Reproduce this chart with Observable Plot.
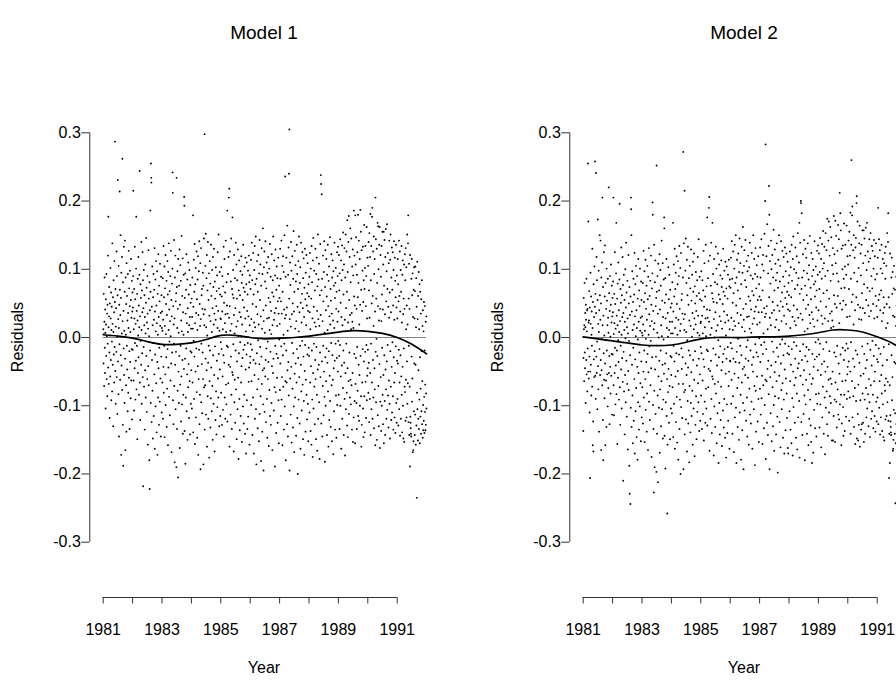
<!DOCTYPE html>
<html><head><meta charset="utf-8">
<script src="https://cdn.jsdelivr.net/npm/d3@7"></script>
<script src="https://cdn.jsdelivr.net/npm/@observablehq/plot@0.6"></script>
<style>
body{margin:0;width:896px;height:681px;overflow:hidden;position:relative;background:#fff;font-family:"Liberation Sans",Arial,sans-serif;color:#000}
.panel{position:absolute;top:0;width:480px;height:681px}
.title{position:absolute;font-size:19px;transform:translate(-50%,-50%);white-space:nowrap}
.xl{position:absolute;font-size:16px;transform:translate(-50%,-50%)}
.yl{position:absolute;font-size:16px;transform:translate(-50%,-50%) rotate(-90deg);white-space:nowrap}
</style></head><body>
<div id="p1" class="panel" style="left:0"></div>
<div id="p2" class="panel" style="left:480px"></div>
<div class="title" style="left:264px;top:33px">Model 1</div>
<div class="title" style="left:744px;top:33px">Model 2</div>
<div class="xl" style="left:264px;top:668px">Year</div>
<div class="xl" style="left:744px;top:668px">Year</div>
<div class="yl" style="left:18px;top:337px">Residuals</div>
<div class="yl" style="left:498px;top:337px">Residuals</div>
<script>
// tick values
const yearTicks = [1981,1982,1983,1984,1985,1986,1987,1988,1989,1990,1991];
const residTicks = [-0.3,-0.2,-0.1,0,0.1,0.2,0.3];

// Model 1 residuals (thousandths), one array per year, in time order
const m1y1981 = [12,-38,64,5,-71,23,88,-15,-52,41,7,-104,56,19,-27,93,-61,2,35,-86,48,-9,120,-44,177,15,-68,31,74,-22,-118,50,3,-57,102,28,-33,66,-92,11,45,-6,-79,138,20,-40,59,-130,8,84,-25,37,-66,112,-14,52,287,-49,71,-97,16,43,-21,126,-58,90,1,-112,62,231,-35,27,-83,105,14,-145,48,-10,214,70,-62,33,150,-26,58,-172,95,-41,6,118,-77,262,24,-128,81,-188,39,-16,133,-55,10,-96,67,142,-31,-165,88,4,-70,49,-138,109,-12,61,-47,25,-108,93,36,-81,14,127,-59,72,-20,-134,46,98,-36,8,-89,55,115,-63,29,-17,83,-120,38,66];
const m1y1982 = [-18,44,90,215,-63,12,-107,71,28,-45,133,-8,56,-91,20,-34,101,177,-76,39,-12,64,-149,25,86,-52,3,118,-29,47,-84,15,92,244,-66,31,-121,78,-5,58,-40,140,11,-97,69,-23,37,125,-58,84,-218,43,-14,99,-72,18,62,-135,30,-48,107,6,-88,51,146,-27,73,-109,22,-61,90,35,-157,13,-42,128,-70,57,2,-180,81,-222,40,-19,186,67,-96,255,234,227,-124,45,-33,104,-78,18,-148,59,-8,93,-115,26,70,-54,131,-163,38,-25,85,-101,9,112,-67,47,-139,21,97,-36,-172,64,4,-88,122,-45,30,-128,76,-15,53,-94,108,17,-60,36,-145,89,-28,62,-110,14];
const m1y1983 = [38,-66,10,87,-119,26,-43,134,-81,59,-12,104,-146,17,72,-54,121,-99,5,49,-29,83,-131,33,-75,112,-17,63,-158,96,-44,11,138,-87,41,-6,68,-114,24,90,-63,2,127,-38,55,-168,31,79,-22,101,242,212,-92,46,-127,19,-9,143,-71,28,-183,88,-40,120,-105,53,-21,65,-190,234,74,-134,14,97,-78,42,-205,115,-50,7,-96,76,-27,129,-162,48,-69,106,-12,83,-123,25,-57,149,9,-98,61,-33,116,-141,37,-84,4,92,-46,206,193,-137,58,-31,94,-185,35,-88,70,-16,122,-108,21,-54,85,-150,43,8,-73,110,-39,63,-118,18,99,-64,30,-142,77,-20,51,-97,13,-48];
const m1y1984 = [-22,57,-104,30,88,-66,13,179,-139,45,-5,114,-90,67,-28,137,-156,21,78,-50,102,-117,36,-16,126,-80,56,-147,11,85,-42,119,-172,33,-61,97,-18,141,-127,49,-84,17,109,-193,27,131,-95,-9,62,-39,71,-111,42,-22,95,-61,76,-186,34,145,-73,18,298,-135,41,-70,105,-31,152,-113,15,87,-48,121,-160,3,69,-86,140,-37,-119,55,-12,94,-176,32,-64,112,-19,79,-132,24,-89,136,-44,61,-108,8,99,-71,43,-150,118,-26,74,-97,19,130,-55,35,-167,82,-13,57,-121,26,103,-79,46,-142,68,-34,91,-102,14,125,-60,39,-88,151,-24,72,-130,10,96,-47,63,-115,28,-7];
const m1y1985 = [27,-81,103,-17,60,-128,38,90,-57,12,-106,75,-26,133,-145,51,-37,115,-88,21,66,-119,34,142,-69,8,-98,81,-12,47,186,-123,35,-14,93,-67,118,-40,205,29,218,-160,46,126,-43,10,-113,82,-28,145,-84,20,-134,71,-51,176,63,-55,99,-10,58,-167,33,121,-95,6,-62,87,-125,43,-19,139,-76,16,107,-149,57,-35,84,-105,24,129,-59,2,-178,69,-23,113,-90,37,-136,62,-7,97,-115,30,-66,119,-42,80,-153,19,92,-30,55,-101,136,-18,73,-126,44,-84,104,-11,67,-141,28,117,-47,9,-170,78,-25,110,-92,39,-134,63,-8,98,-116,31,-65,120,-44,81,-157,18,91,-28];
const m1y1986 = [-37,71,-10,114,-99,27,-64,139,-18,84,-143,49,9,-88,124,-33,63,-170,22,99,-55,134,-119,15,78,-38,148,-105,45,-186,86,-23,112,-76,34,-133,67,-4,121,-61,19,-152,94,-39,143,-112,55,-14,107,-86,31,-181,76,-28,131,-68,13,-138,93,-48,160,-98,40,-195,24,103,-45,126,-109,7,82,-57,141,-33,47,-124,72,-16,110,-90,28,-147,95,-6,-61,118,-36,58,-159,29,101,-77,11,137,-115,52,-21,89,-128,39,5,-96,122,-42,66,-165,18,84,-52,148,-31,60,-107,26,113,-73,36,-189,91,-12,129,-80,43,-140,70,-24,104,-59,17,87,-125,53,-30,117,-92,35,-155,76,-3,58];
const m1y1987 = [20,-77,130,-38,86,-115,53,-13,142,-91,35,-58,105,-158,67,-26,119,-72,4,96,-135,41,-9,150,-101,28,236,-64,89,-180,33,-19,117,-66,44,-127,164,-48,10,-145,92,-36,132,-85,240,57,305,-195,27,110,-60,77,-113,16,140,-43,98,-154,34,-8,119,-75,50,-132,86,-23,156,-101,38,-168,67,-53,127,-88,13,106,-38,82,-144,24,-66,136,-17,93,-118,45,-200,71,-30,112,-91,9,148,-58,37,-126,80,-12,103,-163,51,-40,139,-79,22,-107,64,-5,125,-69,43,-149,87,-28,116,-93,30,-172,73,-49,130,-11,56,-138,95,-62,18,121,-84,47,-120,65,-25,109,-97,39,-152,78,-15,60];
const m1y1988 = [-27,89,-110,37,124,-66,12,-137,101,-42,57,-157,134,-19,81,-91,28,-175,113,-52,146,-104,45,-9,98,-72,22,-127,69,-33,130,-61,16,-149,93,-14,117,-84,39,-166,75,-47,151,-119,27,85,-40,108,-95,17,-178,62,-22,137,-58,33,238,225,-126,69,210,-35,86,-145,24,-71,120,-12,53,-114,96,-50,141,-87,7,-182,74,-29,128,-100,40,-64,115,-16,60,-143,92,-37,11,136,-79,46,-160,83,-20,104,-121,31,-56,147,-93,19,71,-131,54,-8,122,-70,35,-152,88,-26,113,-62,25,-171,97,-45,76,-108,14,139,-34,58,-135,80,-9,102,-85,42,-147,67,-30,125,-99,23,90,-50,133,-5];
const m1y1989 = [38,-84,121,-27,69,-134,94,-11,144,-100,51,-57,113,-163,30,84,-41,135,-119,18,99,-74,154,-19,63,-143,107,-37,131,-90,26,-173,88,-52,151,-105,43,-9,126,-81,67,-129,172,-45,96,-146,22,140,-64,178,-112,55,-22,118,-88,33,160,-62,81,-98,12,145,-70,36,-135,104,23,-52,129,-153,91,14,-117,186,60,-24,120,-93,47,-155,179,-68,107,-30,147,-96,42,-134,92,-14,125,-78,59,180,-115,80,-40,142,-122,19,-55,115,-100,48,187,-27,155,-86,70,-160,128,-128,39,-66,98,-17,133,-104,52,-146,84,-35,165,-86,71,-139,102,-21,134,-65,46,-118,90,-11,162,-92,28,-56,117,-45];
const m1y1990 = [-18,105,-81,140,-37,69,-124,153,29,-90,118,-52,181,-143,84,-9,134,-105,50,-66,177,190,-119,61,-33,126,-88,17,148,-133,93,-45,115,-76,38,-158,205,-21,144,-95,57,-2,130,-150,80,-27,168,-114,46,163,-71,100,-130,25,136,-39,162,-162,42,-94,121,-58,89,-137,24,134,-100,63,-15,155,-84,41,-127,107,-55,155,-155,76,-26,143,-93,34,-143,118,-47,159,-76,53,-119,97,-35,166,-106,71,-11,124,-85,45,-132,109,-63,29,142,-97,66,-148,114,-20,151,-72,37,-121,88,-43,132,-110,70,-7,125,-86,47,-135,99,-29,141,-66,26,-117,117,-52,83,-140,59,-13,136,-96,44,-125,91,-34];
const m1y1991 = [28,-90,115,-38,78,-129,53,-18,142,-105,61,-66,126,-144,38,-26,99,-119,67,-57,134,-84,22,-139,92,-43,113,-100,34,-148,57,-16,107,-153,42,-72,122,-80,84,-122,131,-62,12,103,-117,47,-35,151,-97,19,-67,138,179,-124,57,-12,108,-143,42,-72,-189,121,-116,-125,-133,-141,-145,86,-28,115,-94,62,-60,94,-168,30,-165,-152,70,-108,103,-38,28,-143,68,-113,104,-40,-157,15,87,-129,45,-235,-81,111,-105,27,-151,61,-119,-48,96,-134,12,-91,78,-155,-29,67,-116,-75,35,-141,56,-108,-20,84,-127,-64,17,-147,40,-99,-136,9,-122,52,-87,-140,-19,46,-109,-69,-136,23,-128,-82,31,-104];

// Model 2 residuals (thousandths)
const m2y1981 = [-137,-30,58,12,-64,18,80,-22,-45,36,15,-96,48,26,-33,86,-54,9,40,-79,42,-16,255,-50,170,22,-60,25,68,-28,-110,44,-206,-50,95,20,-40,60,-85,4,38,-12,-72,130,14,-158,52,-123,-167,78,-32,30,-58,104,-20,45,258,-56,64,-90,241,36,-28,118,-52,84,-6,-105,55,173,-42,20,-76,98,8,-138,40,-17,150,62,-55,26,142,-33,50,-165,88,-48,-2,110,-70,205,18,-121,74,-180,32,-23,125,-62,3,-89,60,135,-38,-158,80,-4,-63,42,-131,101,-19,54,-54,18,-101,86,29,-74,7,220,-52,65,-27,-127,39,90,-43,1,-82,48,107,-56,22,-24,76,-113,31,58];
const m2y1982 = [-25,37,82,205,-70,5,-114,64,21,-52,125,-15,49,-98,13,-41,94,168,-83,32,-19,57,-156,18,79,-59,-4,110,-36,40,-91,8,85,196,-73,24,-128,71,-12,51,-47,132,4,-104,62,-30,30,118,-65,77,-210,36,-21,92,-79,11,55,-142,23,-55,100,-1,-95,44,139,-34,66,-116,15,-68,83,28,-164,6,-49,121,-77,50,-5,-188,74,-229,33,-26,-244,60,-103,205,188,150,-131,38,-40,97,-85,11,-155,52,-15,86,-122,19,63,-61,124,-170,31,-32,78,-108,2,105,-74,40,-146,14,90,-43,-179,57,-3,-95,115,-52,23,-135,69,-22,46,-101,101,10,-67,29,-152,82,-35,55,-117,7];
const m2y1983 = [31,-73,3,80,-126,19,-50,127,-88,52,-19,97,-153,10,65,-61,114,-106,-2,42,-36,76,-138,26,-82,105,-24,56,-165,89,-51,4,131,-94,34,-13,61,-121,17,83,-70,-5,120,-45,48,-175,24,72,-29,94,198,180,-99,39,-134,12,-227,136,-78,21,-190,81,-47,113,-112,46,-28,58,-197,252,67,-141,7,90,-85,35,-212,108,-57,0,-103,69,-34,122,-169,41,-76,99,-19,76,-130,18,-64,142,2,-105,54,-40,109,-148,30,-91,-3,85,-53,176,160,-144,51,-38,87,-192,28,-95,63,-23,115,-115,14,-61,-258,-157,36,1,-80,103,-46,56,-125,11,92,-71,23,-149,70,-27,44,-104,6,-55];
const m2y1984 = [-29,50,-111,23,81,-73,6,168,-146,38,-12,107,-97,60,-35,130,-163,14,71,-57,95,-124,29,-23,119,-87,49,-154,4,78,-49,112,-179,26,-68,90,-25,134,-134,42,-91,10,102,-200,20,124,-102,-16,55,-46,64,-118,35,-29,88,-68,272,-193,27,138,-80,11,215,-142,34,-77,98,-38,145,-120,8,80,-55,114,-167,-4,62,-93,133,-44,-126,48,-19,87,-183,25,-71,105,-26,72,-139,17,-96,129,-51,54,-115,1,92,-78,36,-157,111,-33,67,-104,12,123,-62,28,-174,75,-20,50,-128,19,96,-86,39,-149,61,-41,84,-109,7,118,-67,32,-95,144,-31,65,-137,3,89,-54,56,-122,21,-14];
const m2y1985 = [23,-85,97,-23,54,-134,32,84,-63,6,-112,69,-32,127,-151,45,-43,109,-94,15,60,-125,28,136,-75,2,-104,75,-18,41,176,-129,29,-20,87,-73,112,-46,190,23,206,-166,40,120,-49,4,-119,76,-34,139,-90,14,-140,65,-57,168,57,-61,93,-16,52,-173,27,115,-101,0,-68,81,-131,37,-25,133,-82,10,101,-155,51,-41,78,-111,18,123,-65,-4,-184,63,-29,107,-96,31,-142,56,-13,91,-121,24,-72,113,-48,74,-159,13,86,-36,49,-107,130,-24,67,-132,38,-90,98,-17,61,-147,22,111,-53,3,-176,72,-31,104,-98,33,-140,57,-14,92,-122,25,-71,114,-50,75,-163,12,85,-34];
const m2y1986 = [-35,73,-8,117,-97,29,-62,141,-16,86,-141,51,11,-86,126,-31,65,-168,24,101,-53,136,-117,17,80,-36,150,-103,47,-184,88,-21,114,-74,36,-131,69,-2,123,-59,21,-150,96,-37,145,-110,57,-12,109,-84,33,-179,78,-26,133,-66,15,-136,95,-46,162,-96,42,-193,26,105,-43,128,-107,9,84,-55,143,-31,49,-122,74,-14,112,-88,30,-145,97,-4,-59,120,-34,60,-157,31,103,-75,13,139,-113,54,-19,91,-126,41,7,-94,124,-40,68,-163,20,86,-50,150,-29,62,-105,28,115,-71,38,-187,93,-10,131,-78,45,-138,72,-22,106,-57,19,89,-123,55,-28,119,-90,37,-153,78,-1,60];
const m2y1987 = [22,-75,132,-36,88,-113,55,-11,144,-89,37,-56,107,-156,69,-24,121,-70,6,98,-133,43,-7,152,-99,30,200,-62,283,-178,35,-17,119,-64,46,-125,166,-46,12,-143,94,-34,134,-83,222,59,180,-193,29,112,-58,79,-111,18,142,-41,100,-152,36,-6,121,-73,52,-130,88,-21,158,-99,40,-166,69,-51,129,-86,15,108,-36,84,-142,26,-64,138,-15,95,-116,47,-198,73,-28,114,-89,11,150,-56,39,-124,82,-10,105,-161,53,-38,141,-77,24,-105,66,-3,127,-67,45,-147,89,-26,118,-91,32,-170,75,-47,132,-9,58,-136,97,-60,20,123,-82,49,-118,67,-23,111,-162,41,-170,80,-13,62];
const m2y1988 = [-25,91,-108,39,126,-64,14,-135,103,-40,59,-155,136,-17,83,-89,30,-173,115,-50,148,-102,47,-7,100,-70,24,-125,71,-31,132,-59,18,-147,95,-12,119,-82,41,-164,77,-45,153,-117,29,87,-38,110,-93,168,-176,64,-20,139,-56,35,200,197,-124,71,182,-33,88,-143,26,-69,122,-10,55,-112,98,-48,143,-85,9,-180,76,-27,130,-98,42,-62,117,-14,62,-141,94,-35,13,138,-77,48,-158,85,-18,106,-119,33,-54,149,-91,21,73,-129,56,-153,124,-68,37,-184,90,-24,115,-60,27,-169,99,-43,78,-106,16,141,-32,60,-133,82,-7,104,-83,44,-145,69,-28,127,-97,25,92,-48,135,-3];
const m2y1989 = [40,-82,123,-25,71,-132,96,-9,146,-98,53,-55,115,-161,32,86,-39,137,-117,20,101,-72,156,-17,65,-141,109,-35,133,-88,28,-171,90,-50,153,-103,45,-7,128,-79,69,-127,174,-43,98,-144,24,142,-62,170,-110,57,-20,120,-86,35,162,-60,83,-96,14,147,-68,38,-151,106,25,-50,131,-151,93,16,-115,178,62,-22,122,-91,49,-153,171,-66,109,-28,149,-94,44,-132,94,-12,127,-76,61,165,-113,82,-38,144,-120,21,-53,212,-98,50,182,-25,157,-84,72,-158,130,-126,41,-64,100,-15,135,-102,54,-144,86,-33,167,-84,73,-137,104,-19,136,-63,48,-116,92,-9,164,-90,30,-54,119,-43];
const m2y1990 = [-16,107,-79,142,-35,71,-122,155,31,-88,120,-50,183,-141,86,-7,136,260,52,-64,179,192,-117,63,-31,128,-86,19,150,-131,95,-43,117,-74,40,-156,132,-19,146,-93,59,197,207,-148,82,-25,170,-112,48,-151,-69,102,-128,27,138,-37,164,-160,44,-92,123,-56,91,-135,26,136,-127,65,-13,157,-82,43,-125,109,-53,157,-153,78,-24,145,-91,36,-141,120,-45,161,-74,55,-117,99,-33,168,-104,73,-9,126,-83,47,-130,111,-61,31,144,-95,68,-146,116,-18,153,-70,39,-119,90,-41,134,-108,72,-5,127,-84,49,-133,101,-27,143,-64,28,-115,119,-50,85,-138,61,-11,138,-94,46,-123,93,-32];
const m2y1991 = [30,-88,117,-36,190,-127,55,-16,144,-103,63,-64,128,-142,40,-24,101,-117,69,-55,136,-82,24,-137,94,-41,115,-98,36,-146,59,-14,109,-151,44,-70,124,-78,86,-120,133,-60,14,105,-115,49,-33,153,-95,21,-65,140,182,-122,59,-10,-206,-141,44,-70,-184,123,-114,-123,-131,-139,-143,88,-26,117,-92,64,-58,96,-166,32,-163,-150,72,-106,105,-36,30,-141,70,-111,-243,-38,-155,17,89,-127,47,-230,-79,113,-103,29,-149,63,-117,-46,98,-132,14,-89,80,-153,-27,69,-114,-73,37,-139,58,-106,-18,86,-125,-62,19,-145,42,-97,-134,11,-120,54,-85,-138,-17,48,-107,-67,-134,25,-126,-80,33,-102];

// smooth curves
const smoothYears = [1981,1981.5,1982,1982.5,1983,1983.5,1984,1984.5,1985,1985.5,1986,1986.5,1987,1987.5,1988,1988.5,1989,1989.5,1990,1990.5,1991,1991.5,1992];
const smooth1 = [0.004,0.002,-0.001,-0.006,-0.010,-0.010,-0.008,-0.003,0.003,0.003,0.000,-0.002,-0.001,0.000,0.002,0.005,0.008,0.010,0.009,0.006,0.000,-0.010,-0.024];
const smooth2 = [0.001,-0.002,-0.005,-0.008,-0.011,-0.012,-0.011,-0.007,-0.002,0.000,0.000,0.000,0.001,0.001,0.002,0.004,0.007,0.011,0.011,0.008,0.001,-0.008,-0.022];

const model1 = [m1y1981,m1y1982,m1y1983,m1y1984,m1y1985,m1y1986,m1y1987,m1y1988,m1y1989,m1y1990,m1y1991];
const model2 = [m2y1981,m2y1982,m2y1983,m2y1984,m2y1985,m2y1986,m2y1987,m2y1988,m2y1989,m2y1990,m2y1991];

function toPoints(arrs) {
  const pts = [];
  arrs.forEach((arr, k) => {
    const yr = yearTicks[k];
    arr.forEach((v, i) => pts.push({x: yr + (i + 0.5) / arr.length, y: v / 1000}));
  });
  return pts;
}

function panel(arrs, smooth) {
  const pts = toPoints(arrs);
  const sm = smoothYears.map((x, i) => ({x, y: smooth[i]}));
  return Plot.plot({
    width: 480, height: 681,
    marginLeft: 89.3, marginRight: 53.9, marginTop: 132.3, marginBottom: 84,
    insetLeft: 13.4, insetRight: 0, insetTop: 0, insetBottom: 55.3,
    style: {fontSize: "16px", fontFamily: "'Liberation Sans', Arial, sans-serif", background: "white", color: "black"},
    x: {domain: [1981, 1992], axis: null},
    y: {domain: [-0.3, 0.3], axis: null},
    marks: [
      Plot.ruleY([0], {x1: 1981, x2: 1992, stroke: "#808080", strokeWidth: 1.2}),
      Plot.dot(pts, {x: "x", y: "y", r: 0.95, fill: "#000", stroke: null}),
      Plot.line(sm, {x: "x", y: "y", curve: "natural", stroke: "#000", strokeWidth: 1.7}),
      Plot.ruleX([1981], {y1: -0.3, y2: 0.3, dx: -13.4, stroke: "#333", strokeWidth: 1}),
      Plot.ruleY([-0.3], {x1: 1981, x2: 1991, dy: 55.3, stroke: "#333", strokeWidth: 1}),
      Plot.axisX({ticks: yearTicks, tickSize: 6.5, tickPadding: 20, stroke: "#333",
        tickFormat: d => (d % 2 === 1 ? String(d) : ""), label: null, fill: "black"}),
      Plot.axisY({ticks: residTicks, tickSize: 8, tickPadding: 1, stroke: "#333",
        tickFormat: d => d.toFixed(1), label: null, fill: "black"})
    ]
  });
}

document.getElementById("p1").appendChild(panel(model1, smooth1));
document.getElementById("p2").appendChild(panel(model2, smooth2));
</script>
</body></html>
